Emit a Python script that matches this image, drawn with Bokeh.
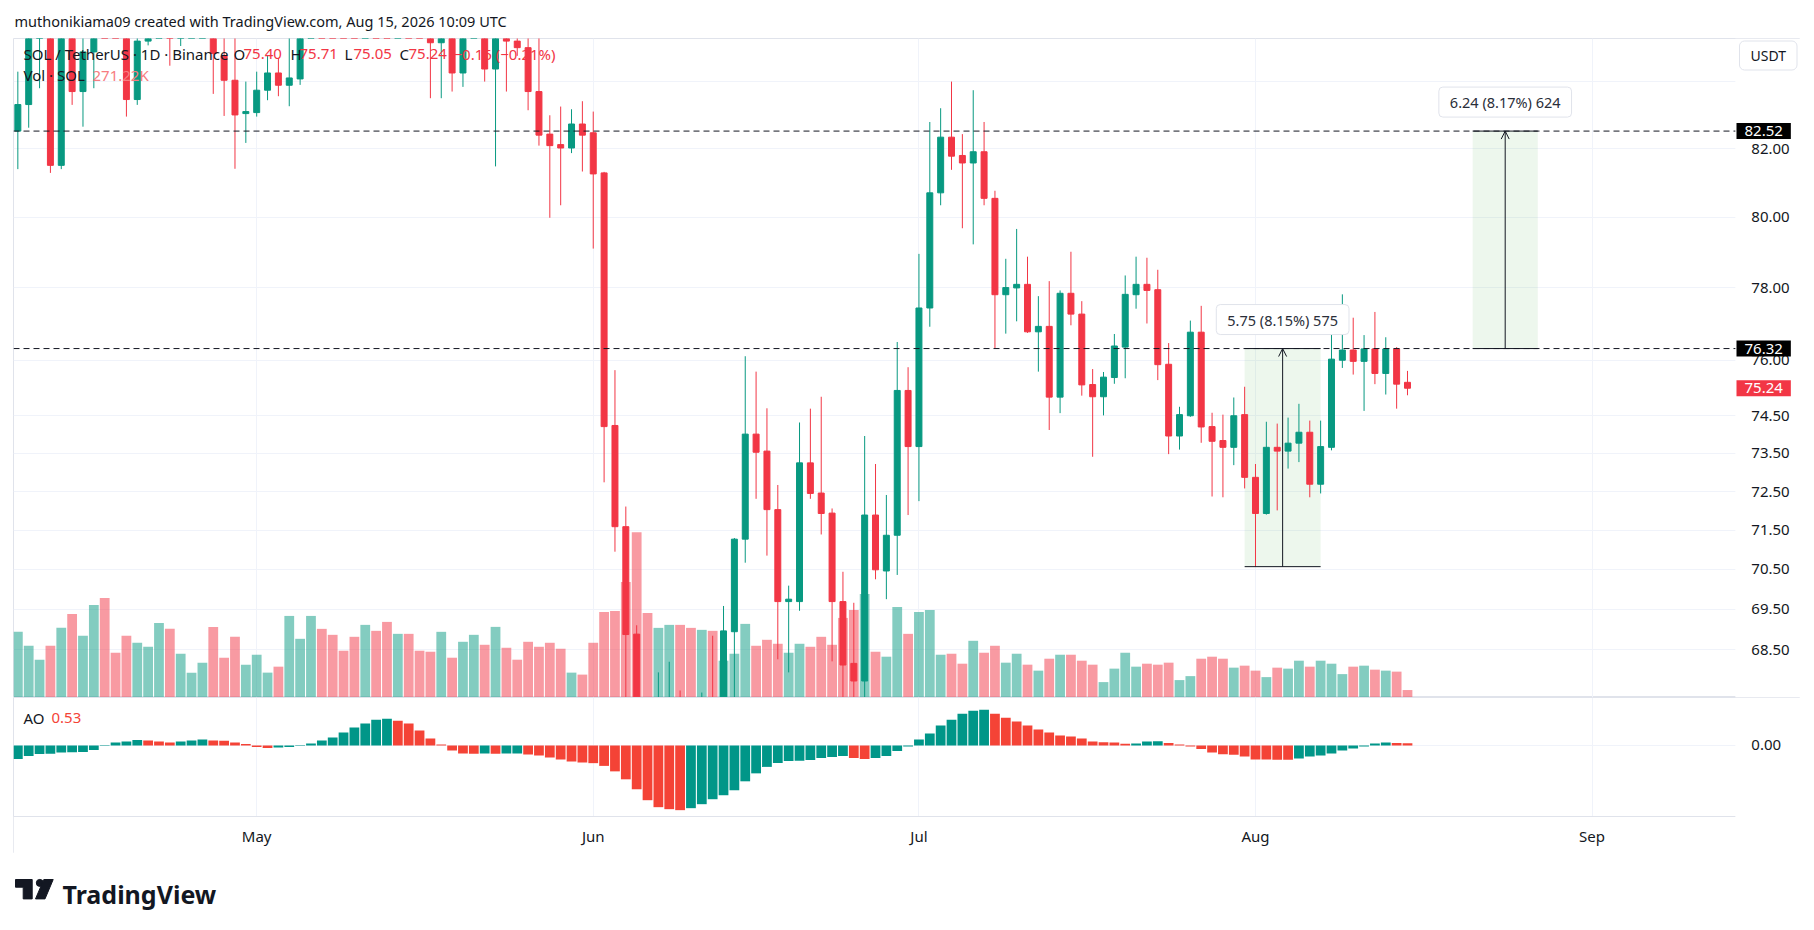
import pandas as pd
from bokeh.plotting import figure
from bokeh.models import (Range1d, LinearScale, FixedTicker, CustomJSTickFormatter, Label,
                          BoxAnnotation, Arrow, OpenHead, ColumnDataSource, DatetimeTickFormatter)
from bokeh.layouts import column
from bokeh.embed import file_html
from bokeh.resources import INLINE

# ---------------- data ----------------
first_day = "2026-04-09"

open_ = [82.52, 83.31, 85.6, 86.2, 81.51, 85.8, 83.7, 84.9, 86.4, 86.0,
         85.7, 83.46, 85.23, 85.7, 86.4, 85.8, 86.5, 86.9, 87.1, 84.78,
         84.04, 83.04, 83.07, 83.74, 84.26, 83.89, 84.08, 86.2, 88.0, 87.6,
         87.3, 87.0, 86.7, 88.2, 87.6, 86.9, 87.6, 86.7, 85.9, 85.18,
         85.9, 84.26, 85.7, 86.3, 84.38, 85.9, 85.23, 85.03, 83.7, 82.43,
         82.12, 82.02, 82.73, 82.47, 81.29, 74.24, 71.59, 68.88, 66.6, 66.0,
         66.7, 67.0, 66.6, 66.3, 66.9, 66.7, 68.94, 71.27, 74.01, 73.56,
         72.03, 69.69, 69.69, 73.25, 72.46, 71.94, 69.69, 68.16, 67.73, 71.89,
         70.46, 71.37, 75.18, 73.68, 77.44, 80.71, 82.34, 81.8, 81.58, 81.91,
         80.55, 77.81, 78.0, 78.1, 76.78, 76.93, 75.0, 77.85, 77.27, 75.34,
         75.01, 75.53, 76.36, 77.81, 78.1, 77.95, 75.89, 73.96, 74.5, 76.77,
         74.21, 73.84, 73.66, 74.53, 72.87, 71.93, 73.66, 73.56, 73.77, 74.06,
         72.69, 73.66, 76.0, 76.28, 75.97, 76.31, 75.64, 76.31, 75.40]
high = [84.3, 85.9, 86.5, 86.5, 86.3, 86.0, 85.6, 86.8, 86.9, 86.4,
        85.9, 85.5, 86.0, 86.8, 86.7, 86.9, 87.2, 87.4, 87.3, 85.4,
        85.5, 84.0, 84.3, 84.78, 84.7, 85.4, 86.6, 88.4, 89.0, 88.5,
        88.2, 87.8, 88.6, 88.9, 88.1, 88.0, 88.0, 87.1, 86.4, 86.2,
        86.3, 86.0, 86.7, 86.6, 86.4, 86.2, 85.5, 85.5, 85.4, 82.99,
        83.25, 83.17, 83.41, 83.1, 81.32, 75.73, 72.11, 69.1, 67.2, 67.94,
        68.2, 67.5, 67.2, 67.45, 68.84, 69.58, 71.3, 76.11, 75.69, 74.70,
        72.67, 70.09, 74.32, 74.69, 75.01, 72.06, 70.44, 69.66, 73.96, 73.22,
        72.41, 76.5, 75.81, 78.96, 82.79, 83.2, 84.0, 82.43, 83.74, 82.79,
        80.77, 78.82, 79.67, 78.88, 77.77, 78.19, 77.93, 79.02, 77.63, 75.76,
        75.68, 76.72, 78.35, 78.88, 78.85, 78.51, 76.47, 74.74, 77.09, 77.5,
        74.58, 74.53, 74.99, 75.28, 73.22, 74.34, 74.29, 74.45, 74.82, 74.37,
        74.37, 76.82, 77.82, 77.17, 76.69, 77.33, 76.63, 76.36, 75.71]
low = [81.4, 82.62, 83.8, 81.29, 81.4, 83.3, 82.65, 83.8, 85.6, 85.45,
       82.95, 83.3, 85.1, 85.45, 84.48, 85.08, 86.0, 86.4, 83.63, 82.97,
       81.41, 82.17, 82.95, 83.44, 83.56, 83.26, 83.9, 85.8, 87.2, 86.8,
       86.6, 86.2, 86.4, 87.3, 86.6, 86.3, 86.4, 85.6, 83.5, 83.5,
       83.7, 83.84, 85.4, 84.0, 81.48, 83.7, 84.78, 83.14, 82.09, 79.99,
       80.35, 81.87, 81.33, 79.11, 72.74, 70.95, 66.9, 65.9, 65.6, 65.7,
       66.2, 66.2, 66.0, 66.0, 66.3, 66.5, 66.9, 70.67, 72.31, 70.85,
       68.26, 67.94, 69.46, 72.31, 71.39, 68.21, 67.1, 67.1, 67.2, 70.25,
       69.75, 70.36, 71.89, 72.25, 76.92, 80.35, 81.38, 79.69, 79.23, 80.35,
       76.33, 76.73, 77.07, 76.75, 75.69, 74.12, 74.57, 76.96, 75.04, 73.41,
       74.51, 75.36, 75.51, 77.42, 77.01, 75.46, 73.48, 73.6, 74.47, 73.78,
       72.37, 72.35, 73.19, 72.58, 70.57, 71.9, 72.01, 73.1, 73.27, 72.35,
       72.45, 73.58, 75.79, 75.61, 74.63, 75.35, 75.07, 74.69, 75.05]
close = [83.31, 85.6, 86.2, 81.51, 85.8, 83.7, 84.9, 86.4, 86.0, 85.7,
         83.46, 85.23, 85.7, 86.4, 85.8, 86.5, 86.9, 87.1, 84.85, 84.04,
         83.0, 83.1, 83.74, 84.26, 83.89, 84.11, 86.2, 88.0, 87.6, 87.3,
         87.0, 86.7, 88.2, 87.6, 86.9, 87.6, 86.7, 85.9, 85.18, 85.9,
         84.26, 85.7, 86.3, 84.38, 85.9, 85.23, 85.03, 83.7, 82.4, 82.09,
         82.02, 82.73, 82.40, 81.26, 74.21, 71.59, 68.87, 66.6, 66.0, 66.7,
         67.0, 66.6, 66.3, 66.9, 66.7, 68.96, 71.27, 74.01, 73.53, 72.03,
         69.69, 69.75, 73.25, 72.45, 71.93, 69.69, 68.12, 67.73, 71.89, 70.49,
         71.37, 75.18, 73.68, 77.44, 80.71, 82.34, 81.78, 81.58, 81.91, 80.55,
         77.81, 78.01, 78.1, 76.78, 76.93, 75.0, 77.85, 77.27, 75.33, 75.01,
         75.54, 76.39, 77.82, 78.1, 77.93, 75.88, 73.96, 74.53, 76.77, 74.2,
         73.82, 73.66, 74.5, 72.87, 71.93, 73.66, 73.56, 73.77, 74.06, 72.69,
         73.68, 76.03, 76.28, 75.97, 76.31, 75.64, 76.31, 75.35, 75.24]
volume_k = [2387, 1880, 1374, 1880, 2531, 3037, 2242, 3363, 3616, 1627, 2242, 1989, 1844, 2712,
            2495, 1591, 904, 1266, 2567, 1446, 2206, 1193, 1555, 904, 1121, 2965, 2133,
            2965, 2495, 2278, 1700, 2206, 2640, 2423, 2748, 2314, 2314, 1700, 1663, 2387, 1446,
            2025, 2278, 1916, 2567, 1808, 1374, 2025, 1844, 1989, 1772, 904, 832, 1989,
            3110, 3146, 4195, 6003, 3074, 2531, 2640, 2640, 2531, 2459, 2423, 1338, 1591, 2676,
            1880, 2097, 1953, 1627, 1953, 1844, 2206, 1916, 2893, 3182, 3761, 1663,
            1483, 3291, 2314, 3110, 3182, 1555, 1591, 1229, 2061, 1627, 1880, 1266, 1591, 1193,
            976, 1410, 1555, 1555, 1338, 1193, 560, 1049, 1627, 1121, 1229, 1193, 1266,
            633, 777, 1410, 1483, 1410, 1085, 1157, 976, 741, 1085, 1049, 1338, 1121, 1338,
            1229, 850, 1121, 1157, 1012, 976, 940, 271.22]
ao = [-3.24, -2.52, -2.04, -1.98, -1.68, -1.62, -1.56, -1.08, -0.12, 0.72,
      0.96, 1.32, 1.20, 0.96, 0.72, 0.96, 1.20, 1.44, 1.20, 1.14,
      0.72, 0.36, -0.36, -0.60, -0.48, -0.36, -0.12, 0.48, 1.20, 1.92,
      3.12, 4.32, 5.28, 6.24, 6.48, 6.00, 5.28, 3.60, 1.68, 0.24,
      -1.20, -1.92, -1.99, -1.94, -1.98, -1.96, -1.93, -2.16, -2.40, -2.88,
      -3.36, -3.84, -4.08, -4.26, -4.92, -6.24, -8.16, -10.56, -13.20, -14.88,
      -15.36, -15.60, -15.12, -14.16, -12.96, -12.00, -10.80, -8.64, -6.72, -5.16,
      -4.20, -3.74, -3.70, -3.48, -3.00, -2.76, -2.52, -3.00, -3.24, -3.00,
      -2.52, -1.32, -0.24, 1.44, 2.88, 4.80, 6.24, 7.68, 8.40, 8.64,
      7.68, 6.72, 5.76, 4.80, 3.84, 3.12, 2.40, 2.16, 1.68, 0.96,
      0.78, 0.70, 0.42, 0.50, 0.96, 1.00, 0.60, 0.24, -0.24, -0.84,
      -1.68, -2.10, -2.22, -2.64, -3.36, -3.38, -3.42, -3.44, -3.12, -2.64,
      -2.40, -1.92, -1.20, -0.72, -0.24, 0.48, 0.72, 0.58, 0.53]

price_ticks = [68.5, 69.5, 70.5, 71.5, 72.5, 73.5, 74.5, 76.0, 78.0, 80.0, 82.0, 84.0]
month_starts = ["2026-05-01", "2026-06-01", "2026-07-01", "2026-08-01", "2026-09-01"]
levels = [82.52, 76.32]
last_price = 75.24

measure_start = ["2026-07-31", "2026-08-21"]
measure_end = ["2026-08-07", "2026-08-27"]
measure_low = [70.57, 76.32]
measure_high = [76.32, 82.52]
measure_text = ["5.75 (8.15%) 575", "6.24 (8.17%) 624"]

title_text = "muthonikiama09 created with TradingView.com, Aug 15, 2026 10:09 UTC"
ohlc_legend = [("SOL / TetherUS \u00b7 1D \u00b7 Binance", "dark", 10), ("O", "dark", 220), ("75.40", "red", 230),
               ("H", "dark", 277), ("75.71", "red", 286), ("L", "dark", 331), ("75.05", "red", 340),
               ("C", "dark", 386), ("75.24", "red", 395), ("\u22120.16 (\u22120.21%)", "red", 440)]
vol_legend = [("Vol \u00b7 SOL", "dark", 10), ("271.22K", "vol", 79)]
ao_legend = [("AO", "dark", 10), ("0.53", "aored", 38)]

# ---------------- styling ----------------
FONT = "Noto Sans"
TXT = "#131722"
UP, DOWN = "#089981", "#F23645"
AO_UP, AO_DOWN = "#009688", "#F44336"
GRID = "#F0F3FA"
BORDER = "#E0E3EB"
COLS = {"dark": TXT, "red": DOWN, "vol": "#F77C80", "aored": AO_DOWN}
DAY = 86400000.0
LEFT = 13           # page x of the chart frame
W = 1800            # figure width (frame spans LEFT..W)
FW_PLOT = 1722      # width of the plotting area, the price scale sits right of it
FH = 659            # price pane height
AOH = 119           # AO pane height
TAH = 37            # time-axis strip height
AO_TOP, AO_BOTTOM = 11.58, -17.13
AO_PER_PX = (AO_TOP - AO_BOTTOM) / AOH
PLOT_DAYS = 158.6
AXIS_DAYS = 6.0


def ms(s):
    return pd.Timestamp(s).timestamp() * 1000.0


t0 = ms(first_day)
n = len(close)
xs = [t0 + i * DAY for i in range(n)]
ccol = [UP if c >= o else DOWN for o, c in zip(open_, close)]
src = ColumnDataSource(dict(x=xs, o=open_, h=high, l=low, c=close,
                            top=[max(a, b) for a, b in zip(open_, close)],
                            bot=[min(a, b) for a, b in zip(open_, close)],
                            col=ccol, vol=volume_k, ao=ao,
                            aocol=[AO_UP if i == 0 or ao[i] >= ao[i - 1] else AO_DOWN for i in range(n)]))

x_start = t0 - 0.4 * DAY
axis_x = x_start + PLOT_DAYS * DAY
xr = Range1d(x_start, axis_x + AXIS_DAYS * DAY)
mticks = [ms(m) for m in month_starts]


def strip(height):
    f = figure(width=W, height=height, x_range=Range1d(LEFT, W), y_range=Range1d(0, height),
               x_axis_location=None, y_axis_location=None, output_backend="svg",
               toolbar_location=None, min_border_left=LEFT, min_border_right=0,
               min_border_top=0, min_border_bottom=0, border_fill_color="white")
    f.outline_line_color = None
    f.grid.visible = False
    return f


# ---------------- title strip ----------------
tt = strip(38)
tt.add_layout(Label(x=14, y=18, text=title_text, text_baseline="middle", text_font=FONT,
                    text_font_size="14.5px", text_color=TXT))

# ---------------- price pane ----------------
p = figure(width=W, height=FH, x_range=xr, y_range=Range1d(67.33, 85.31), y_axis_type="log",
           x_axis_location=None, y_axis_location="right", output_backend="svg",
           toolbar_location=None, min_border_left=LEFT, min_border_right=0,
           min_border_top=0, min_border_bottom=0, border_fill_color="white")
p.outline_line_color = BORDER
p.xgrid.ticker = FixedTicker(ticks=mticks)
p.xgrid.grid_line_color = GRID
p.ygrid.grid_line_color = GRID
ya = p.yaxis[0]
ya.fixed_location = axis_x
ya.ticker = FixedTicker(ticks=price_ticks)
ya.formatter = CustomJSTickFormatter(code="return (Math.abs(tick - 84) < 1e-6) ? '' : tick.toFixed(2);")
ya.axis_line_color = None
ya.major_tick_line_color = None
ya.minor_tick_line_color = None
ya.major_label_standoff = 10
ya.major_label_text_font = FONT
ya.major_label_text_font_size = "15px"
ya.major_label_text_color = TXT
p.add_layout(BoxAnnotation(left=axis_x, fill_color="white", fill_alpha=1.0, line_color=None,
                           level="underlay"))

p.extra_y_ranges = {"vol": Range1d(0, 23955)}
p.extra_y_scales = {"vol": LinearScale()}
p.vbar(x="x", top="vol", bottom=0, width=0.9 * DAY, fill_color="col", fill_alpha=0.5,
       line_color=None, y_range_name="vol", source=src)
p.segment(x0="x", y0="l", x1="x", y1="h", line_color="col", line_width=1, source=src)
p.vbar(x="x", top="top", bottom="bot", width=0.55 * DAY, fill_color="col", line_color="col",
       line_width=1, source=src)

p.segment(x0=[x_start] * len(levels), y0=levels, x1=[axis_x] * len(levels), y1=levels,
          line_color=TXT, line_dash="6 4", line_width=1)

for s, e, lo, hi, txt in zip(measure_start, measure_end, measure_low, measure_high, measure_text):
    xs0, xs1 = ms(s), ms(e)
    mid = (xs0 + xs1) / 2
    p.add_layout(BoxAnnotation(left=xs0, right=xs1, bottom=lo, top=hi, fill_color="#4CAF50",
                               fill_alpha=0.1, line_color=None, level="underlay"))
    p.segment(x0=[xs0, xs0], y0=[lo, hi], x1=[xs1, xs1], y1=[lo, hi], line_color=TXT, line_width=1)
    p.add_layout(Arrow(end=OpenHead(size=8, line_width=1, line_color=TXT), x_start=mid, y_start=lo,
                       x_end=mid, y_end=hi, line_width=1, line_color=TXT))
    p.add_layout(Label(x=mid, y=hi, text=txt, text_align="center", text_baseline="middle",
                       y_offset=29, text_font=FONT, text_font_size="14.5px", text_color="#2A2E39",
                       background_fill_color="white", border_line_color=BORDER,
                       border_radius=4, padding=(11, 5)))

for lv, bg in [(levels[0], "#000000"), (levels[1], "#000000"), (last_price, DOWN)]:
    p.add_layout(Label(x=FW_PLOT + 1, x_units="screen", y=lv, text=f"{lv:.2f}", text_align="left",
                       text_baseline="middle", text_font=FONT, text_font_size="15px",
                       text_color="white", background_fill_color=bg, padding=(8, 3)))

p.add_layout(Label(x=FW_PLOT + 4, y=FH - 17, x_units="screen", y_units="screen", text="USDT",
                   text_align="left", text_baseline="middle", text_font=FONT, text_font_size="14px",
                   text_color=TXT, background_fill_color="white", border_line_color=BORDER,
                   border_radius=5, padding=(11, 5)))

for txt, c, x in ohlc_legend:
    p.add_layout(Label(x=x, y=FH - 15, x_units="screen", y_units="screen", text=txt,
                       text_baseline="middle", text_font=FONT, text_font_size="15px",
                       text_color=COLS[c]))
for txt, c, x in vol_legend:
    p.add_layout(Label(x=x, y=FH - 36, x_units="screen", y_units="screen", text=txt,
                       text_baseline="middle", text_font=FONT, text_font_size="15px",
                       text_color=COLS[c]))

# ---------------- AO pane + time scale ----------------
ao_floor = AO_BOTTOM - TAH * AO_PER_PX
a = figure(width=W, height=AOH + TAH, x_range=xr, y_range=Range1d(ao_floor, AO_TOP),
           x_axis_type="datetime", y_axis_location="right", output_backend="svg",
           toolbar_location=None, min_border_left=LEFT, min_border_right=0, min_border_top=0,
           min_border_bottom=0, border_fill_color="white")
a.outline_line_color = BORDER
a.xgrid.grid_line_color = GRID
a.ygrid.grid_line_color = GRID
xa = a.xaxis[0]
xa.fixed_location = AO_BOTTOM
xa.ticker = FixedTicker(ticks=mticks)
xa.formatter = DatetimeTickFormatter(microseconds="%b", milliseconds="%b", seconds="%b", minsec="%b",
                                     minutes="%b", hourmin="%b", hours="%b", days="%b",
                                     months="%b", years="%b")
ay = a.yaxis[0]
ay.fixed_location = axis_x
for ax in (xa, ay):
    ax.axis_line_color = None
    ax.major_tick_line_color = None
    ax.minor_tick_line_color = None
    ax.major_label_text_font = FONT
    ax.major_label_text_font_size = "15px"
    ax.major_label_text_color = TXT
xa.major_label_standoff = 3
ay.ticker = FixedTicker(ticks=[0])
ay.formatter = CustomJSTickFormatter(code="return tick.toFixed(2);")
ay.major_label_standoff = 10
a.add_layout(BoxAnnotation(left=axis_x, fill_color="white", fill_alpha=1.0, line_color=None,
                           level="underlay"))
a.add_layout(BoxAnnotation(top=AO_BOTTOM, fill_color="white", fill_alpha=1.0, line_color=None,
                           level="underlay"))
a.segment(x0=[x_start], y0=[AO_BOTTOM], x1=[axis_x], y1=[AO_BOTTOM], line_color=BORDER, line_width=1)
a.vbar(x="x", top="ao", bottom=0, width=0.9 * DAY, fill_color="aocol", line_color=None, source=src)
for txt, c, x in ao_legend:
    a.add_layout(Label(x=x, y=TAH + AOH - 20, x_units="screen", y_units="screen", text=txt,
                       text_baseline="middle", text_font=FONT, text_font_size="15px",
                       text_color=COLS[c]))

# ---------------- logo strip ----------------
g = strip(70)
g.patch([15, 31.7, 31.7, 22.7, 22.7, 15], [44, 44, 24.6, 24.6, 36.3, 36.3], color="#131722")
g.scatter([39.3], [40.6], size=7, color="#131722")
g.patch([43.3, 52.7, 44.5, 35], [44, 44, 24.6, 24.6], color="#131722")
g.add_layout(Label(x=62, y=30, text="TradingView", text_font=FONT, text_font_style="bold",
                   text_font_size="25px", text_color="#131722", text_baseline="alphabetic"))

layout = column(tt, p, a, g, spacing=0)
open("out.html", "w").write(file_html(layout, INLINE))
